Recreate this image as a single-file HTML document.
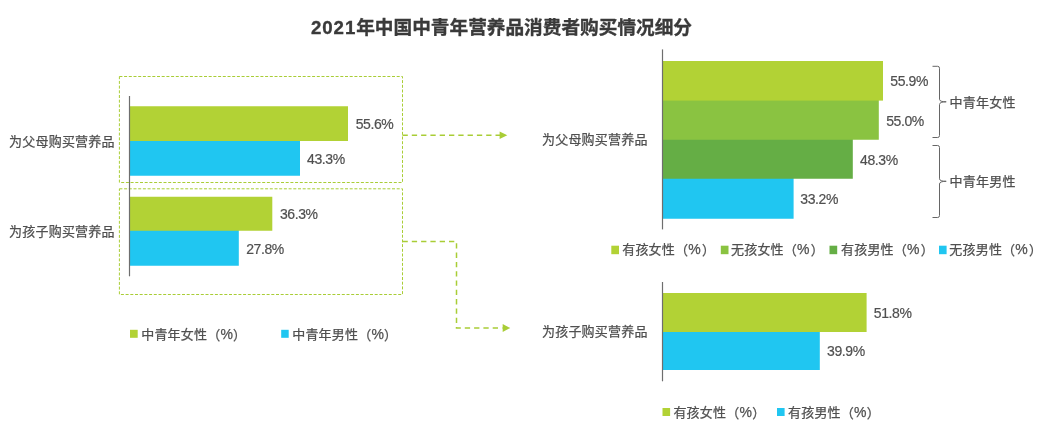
<!DOCTYPE html>
<html lang="zh-CN">
<head>
<meta charset="utf-8">
<title>2021年中国中青年营养品消费者购买情况细分</title>
<style>
html,body{margin:0;padding:0;background:#fff;}
body{width:1063px;height:428px;overflow:hidden;}
svg{display:block;}
text{font-family:"Liberation Sans","Noto Sans CJK SC",sans-serif;}
.t{font-size:18.67px;font-weight:bold;fill:#3a3a3a;stroke:#3a3a3a;stroke-width:0.35px;}
.c{font-size:13px;letter-spacing:0.2px;fill:#505050;stroke:#505050;stroke-width:0.25px;}
.p{font-size:14px;}
.n{font-size:14px;fill:#505050;stroke:#505050;stroke-width:0.2px;letter-spacing:-0.4px;}
.box{fill:none;stroke:#a9cd36;stroke-width:1;stroke-dasharray:3 1.7;}
.arr{fill:none;stroke:#a9cd36;stroke-width:1.5;stroke-dasharray:5.3 4;}
.ax{stroke:#6e6e6e;stroke-width:1.2;}
.br{fill:none;stroke:#666;stroke-width:1;}
</style>
</head>
<body>
<svg width="1063" height="428" viewBox="0 0 1063 428">
<rect width="1063" height="428" fill="#fff"/>

<!-- title -->
<text class="t" x="311" y="34.3"><tspan letter-spacing="0.92">2021</tspan>年中国中青年营养品消费者购买情况细分</text>

<!-- left chart -->
<rect class="box" x="119.4" y="76.5" width="283.1" height="106"/>
<rect class="box" x="119.4" y="188.8" width="283.1" height="105.7"/>
<rect x="130" y="106.25" width="218" height="34.75" fill="#b2d235"/>
<rect x="130" y="141" width="170" height="34.75" fill="#20c6f1"/>
<rect x="130" y="229.75" width="108.8" height="36" fill="#20c6f1"/>
<rect x="130" y="196.75" width="142.3" height="34" fill="#b2d235"/>
<line class="ax" x1="129.5" y1="96" x2="129.5" y2="276.3"/>
<text class="c" x="9.1" y="145.8">为父母购买营养品</text>
<text class="c" x="9.1" y="235.8">为孩子购买营养品</text>
<text class="n" x="355.7" y="129">55.6%</text>
<text class="n" x="307" y="164">43.3%</text>
<text class="n" x="279.9" y="219">36.3%</text>
<text class="n" x="246.2" y="254">27.8%</text>

<!-- left legend -->
<rect x="130" y="329.8" width="7.7" height="8" fill="#b2d235"/>
<text class="c" x="141.2" y="339">中青年女性<tspan dy="0.8">（</tspan><tspan class="p" dy="-0.9">%</tspan><tspan dy="0.9">）</tspan></text>
<rect x="281.2" y="329.8" width="7.5" height="8" fill="#20c6f1"/>
<text class="c" x="292.2" y="339">中青年男性<tspan dy="0.8">（</tspan><tspan class="p" dy="-0.9">%</tspan><tspan dy="0.9">）</tspan></text>

<!-- arrows -->
<path class="arr" d="M402.5 135.3 H500"/>
<path d="M499.6 131.5 L507.3 135.3 L499.6 139.1Z" fill="#a9cd36"/>
<path class="arr" d="M402.5 241.5 H456.5 V328 H502.5"/>
<path d="M502.7 324.1 L510.2 328 L502.7 331.9Z" fill="#a9cd36"/>

<!-- right top chart -->
<rect x="663" y="177.75" width="130.6" height="41" fill="#20c6f1"/>
<rect x="663" y="138.75" width="189.8" height="40" fill="#65ae45"/>
<rect x="663" y="99.6" width="215.8" height="40.15" fill="#8ac341"/>
<rect x="663" y="61" width="220" height="39.6" fill="#b2d235"/>
<line class="ax" x1="662.5" y1="49.4" x2="662.5" y2="229.4"/>
<text class="c" x="542" y="143.7">为父母购买营养品</text>
<text class="n" x="890.3" y="86.2">55.9%</text>
<text class="n" x="886.2" y="126.2">55.0%</text>
<text class="n" x="860" y="164.8">48.3%</text>
<text class="n" x="800.3" y="204">33.2%</text>

<!-- braces -->
<path class="br" d="M932.5 66.3 H937.7 Q939.5 66.3 939.5 68.3 V99.3 Q939.5 101.8 946.2 101.8 Q939.5 101.8 939.5 104.5 V135.5 Q939.5 137.5 937.7 137.5 H932.5"/>
<path class="br" d="M932.5 145.5 H937.7 Q939.5 145.5 939.5 147.5 V178.8 Q939.5 181.3 946.2 181.3 Q939.5 181.3 939.5 184 V215.5 Q939.5 217.5 937.7 217.5 H932.5"/>
<text class="c" x="949.6" y="107.3">中青年女性</text>
<text class="c" x="949.6" y="186.1">中青年男性</text>

<!-- right top legend -->
<rect x="611.3" y="245.7" width="7.7" height="8.5" fill="#b2d235"/>
<text class="c" x="622.2" y="254">有孩女性<tspan dy="0.8">（</tspan><tspan class="p" dy="-0.9">%</tspan><tspan dy="0.9" dx="1.1">）</tspan></text>
<rect x="720.8" y="245.7" width="7.7" height="8.5" fill="#8ac341"/>
<text class="c" x="731" y="254">无孩女性<tspan dy="0.8">（</tspan><tspan class="p" dy="-0.9">%</tspan><tspan dy="0.9" dx="1.1">）</tspan></text>
<rect x="829.5" y="245.7" width="7.7" height="8.5" fill="#65ae45"/>
<text class="c" x="841" y="254">有孩男性<tspan dy="0.8">（</tspan><tspan class="p" dy="-0.9">%</tspan><tspan dy="0.9" dx="1.1">）</tspan></text>
<rect x="939" y="245.7" width="7.6" height="8.5" fill="#20c6f1"/>
<text class="c" x="949.3" y="254">无孩男性<tspan dy="0.8">（</tspan><tspan class="p" dy="-0.9">%</tspan><tspan dy="0.9" dx="1.1">）</tspan></text>

<!-- right bottom chart -->
<rect x="663" y="293" width="203.6" height="39" fill="#b2d235"/>
<rect x="663" y="332" width="156.8" height="38" fill="#20c6f1"/>
<line class="ax" x1="662.5" y1="282" x2="662.5" y2="381.3"/>
<text class="c" x="542" y="335.7">为孩子购买营养品</text>
<text class="n" x="873.8" y="318">51.8%</text>
<text class="n" x="827.1" y="356">39.9%</text>

<!-- right bottom legend -->
<rect x="662.5" y="408" width="7.6" height="8" fill="#b2d235"/>
<text class="c" x="673.4" y="416.7">有孩女性<tspan dy="0.8">（</tspan><tspan class="p" dy="-0.9">%</tspan><tspan dy="0.9" dx="0.2">）</tspan></text>
<rect x="777" y="408" width="7.6" height="8" fill="#20c6f1"/>
<text class="c" x="788" y="416.7">有孩男性<tspan dy="0.8">（</tspan><tspan class="p" dy="-0.9">%</tspan><tspan dy="0.9" dx="0.2">）</tspan></text>
</svg>
</body>
</html>
